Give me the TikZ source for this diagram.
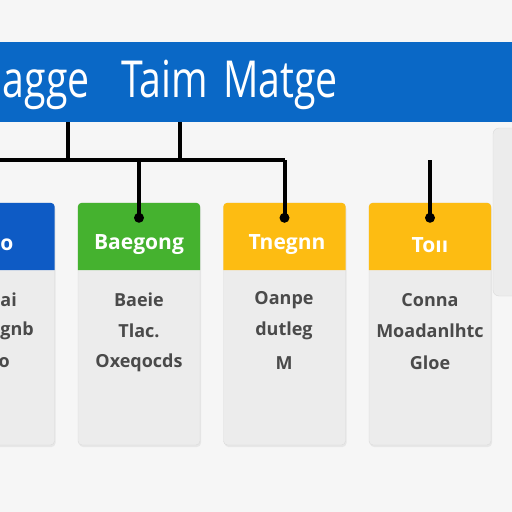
\documentclass[tikz,border=0pt]{standalone}
\usepackage{fontspec}
\setmainfont{Open Sans}
\usetikzlibrary{calc, positioning, shadows}

\definecolor{pagebg}{HTML}{F6F6F6}
\definecolor{bannerblue}{HTML}{0A68C6}
\definecolor{hdblue}{HTML}{0E5BC5}
\definecolor{hdgreen}{HTML}{45B22F}
\definecolor{hdyellow}{HTML}{FDBC12}
\definecolor{cardbody}{HTML}{ECECEC}
\definecolor{cardline}{HTML}{DADADA}
\definecolor{bodygrey}{HTML}{4A4A4A}

\begin{document}
\begin{tikzpicture}[x=1pt, y=-1pt,
    card/.style={draw=cardline, fill=cardbody, rounded corners=4pt,
        minimum width=122pt, minimum height=242pt, inner sep=0pt,
        drop shadow={opacity=0.12, shadow xshift=1pt, shadow yshift=-2pt}},
    titletext/.style={text=white, font=\fontsize{51}{51}\selectfont, xscale=0.77,
        transform shape, inner sep=0pt},
    hdtext/.style={text=white, font=\fontsize{21}{21}\selectfont\bfseries},
    bodytext/.style={text=bodygrey, font=\fontsize{18}{18}\selectfont\bfseries},
    wire/.style={line width=4pt, black}]
    \clip (0,0) rectangle (512,512);
    \fill[pagebg] (0,0) rectangle (512,512);

    % Define the rows used by the connectors
    \coordinate (bus) at (0,160);
    \coordinate (hb) at (0,270);

    % Side panel on the right edge
    \fill[cardbody, draw=cardline, rounded corners=6pt] (493,128) rectangle (540,296);

    % Title banner
    \node[fill=bannerblue, minimum width=512pt, minimum height=80pt, inner sep=0pt,
        anchor=north west] (banner) at (0,42) {};
    \node[titletext, anchor=base east] (title1) at (90,97) {agge};
    \node[titletext, anchor=base west] (title2) at (121,97) {Taim};
    \node[titletext, anchor=base east] (title3) at (338,97) {Matge};

    % Draw the cards
    \node[card] (c1) at (-6.5,324) {};
    \node[card] (c2) at (139,324) {};
    \node[card] (c3) at (284.5,324) {};
    \node[card] (c4) at (430,324) {};

    % Coloured tops of the cards
    \foreach \c/\col in {c1/hdblue, c2/hdgreen, c3/hdyellow, c4/hdyellow}
        \fill[\col] (\c.west |- hb) [rounded corners=4pt] -- (\c.north west)
            -- (\c.north east) [sharp corners] -- (\c.east |- hb) -- cycle;

    % Card titles
    \node[hdtext] (h1) at (7,245) {o};
    \node[hdtext] (h2) at (139,245) {Baegong};
    \node[hdtext] (h3) at (287,245) {Tnegnn};
    \node[hdtext] (h4) at (430,245) {Toıı};

    % Card lines
    \node[bodytext, anchor=east, inner sep=0pt] (l11) at (17,300) {ai};
    \node[bodytext, anchor=east, inner sep=0pt] (l12) at (34,331) {agnb};
    \node[bodytext, anchor=east, inner sep=0pt] (l13) at (10,363) {o};
    \node[bodytext] (l21) at (139,300) {Baeie};
    \node[bodytext] (l22) at (139,331) {Tlac.};
    \node[bodytext] (l23) at (139,363) {Oxeqocds};
    \node[bodytext] (l31) at (284,300) {Oanpe};
    \node[bodytext] (l32) at (284,331) {dutleg};
    \node[bodytext] (l33) at (284,363) {M};
    \node[bodytext] (l41) at (430,300) {Conna};
    \node[bodytext] (l42) at (430,331) {Moadanlhtc};
    \node[bodytext] (l43) at (430,363) {Gloe};

    % Connector ends on the cards
    \coordinate (d1) at ([yshift=-15pt]c1.north);
    \coordinate (d2) at ([yshift=-15pt]c2.north);
    \coordinate (d3) at ([yshift=-15pt]c3.north);
    \coordinate (d4) at ([yshift=-15pt]c4.north);
    \coordinate (j1) at (68,160);
    \coordinate (j2) at (180,160);

    % Draw the connectors
    \draw[wire] (banner.south -| j1) -- (j1);
    \draw[wire] (banner.south -| j2) -- (j2);
    \draw[wire] (c1.north |- bus) -- (c3.north |- bus);
    \draw[wire] (c1.north |- bus) -- (d1);
    \draw[wire] (c2.north |- bus) -- (d2);
    \draw[wire] (c3.north |- bus) -- (d3);
    \draw[wire] (c4.north |- bus) -- (d4);
    \foreach \d in {d1, d2, d3, d4}
        \fill (\d) circle (5pt);

\end{tikzpicture}
\end{document}
